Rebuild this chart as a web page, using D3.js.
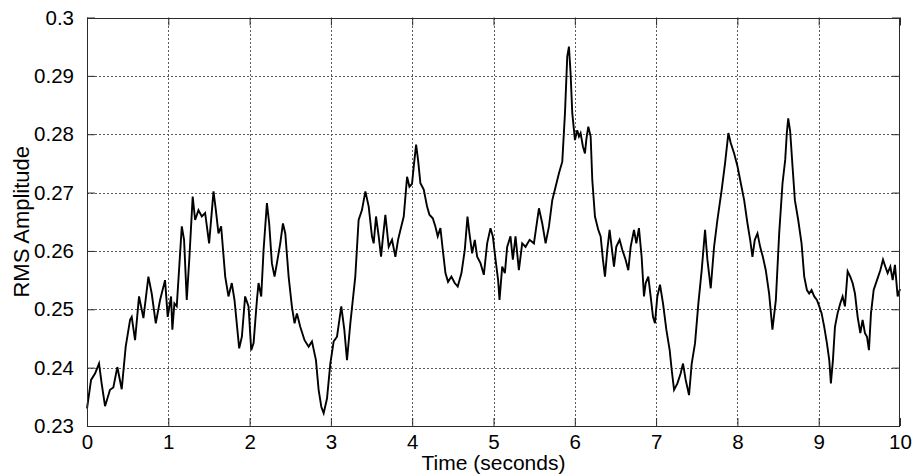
<!DOCTYPE html>
<html>
<head>
<meta charset="utf-8">
<script src="https://cdn.jsdelivr.net/npm/d3@7"></script>
<style>
  html, body { margin: 0; padding: 0; background: #fff; }
  svg { display: block; }
  text { font-family: "Liberation Sans", Arial, Helvetica, sans-serif; fill: #000; }
</style>
</head>
<body>
<svg id="chart" width="912" height="475"></svg>
<script>
// ---- data ----
const times = [
  0, 0.05, 0.099, 0.148, 0.18, 0.222, 0.283, 0.324, 0.373, 0.427,
  0.476, 0.53, 0.55, 0.591, 0.64, 0.694, 0.755, 0.796, 0.846, 0.899,
  0.96, 0.993, 1.034, 1.05, 1.075, 1.104, 1.166, 1.194, 1.227, 1.26,
  1.30, 1.33, 1.371, 1.412, 1.453, 1.502, 1.556, 1.585, 1.617, 1.65,
  1.70, 1.74, 1.781, 1.814, 1.872, 1.905, 1.945, 1.987, 2.02, 2.049,
  2.09, 2.11, 2.143, 2.172, 2.213, 2.241, 2.274, 2.307, 2.336, 2.377,
  2.41, 2.439, 2.48, 2.52, 2.553, 2.582, 2.623, 2.676, 2.726, 2.767,
  2.816, 2.849, 2.882, 2.911, 2.952, 2.993, 3.034, 3.075, 3.128, 3.165,
  3.198, 3.239, 3.30, 3.341, 3.382, 3.424, 3.465, 3.505, 3.526, 3.555,
  3.588, 3.617, 3.637, 3.67, 3.711, 3.752, 3.793, 3.826, 3.855, 3.896,
  3.937, 3.966, 3.998, 4.019, 4.048, 4.072, 4.101, 4.142, 4.183, 4.212,
  4.253, 4.285, 4.314, 4.347, 4.376, 4.409, 4.441, 4.482, 4.523, 4.56,
  4.606, 4.647, 4.68, 4.704, 4.737, 4.77, 4.799, 4.84, 4.881, 4.922,
  4.963, 4.992, 5.025, 5.057, 5.074, 5.107, 5.14, 5.168, 5.209, 5.238,
  5.271, 5.312, 5.353, 5.394, 5.444, 5.497, 5.559, 5.60, 5.641, 5.682,
  5.723, 5.764, 5.805, 5.846, 5.879, 5.907, 5.928, 5.948, 5.969, 6.002,
  6.03, 6.051, 6.071, 6.10, 6.125, 6.141, 6.166, 6.195, 6.215, 6.248,
  6.289, 6.318, 6.346, 6.371, 6.40, 6.428, 6.453, 6.482, 6.51, 6.551,
  6.584, 6.625, 6.658, 6.687, 6.728, 6.757, 6.789, 6.822, 6.851, 6.872,
  6.904, 6.933, 6.962, 6.986, 7.015, 7.048, 7.085, 7.126, 7.167, 7.192,
  7.221, 7.262, 7.302, 7.331, 7.364, 7.405, 7.438, 7.479, 7.52, 7.561,
  7.602, 7.631, 7.672, 7.713, 7.754, 7.807, 7.848, 7.889, 7.918, 7.96,
  8.001, 8.042, 8.083, 8.124, 8.157, 8.185, 8.214, 8.247, 8.28, 8.313,
  8.349, 8.39, 8.431, 8.473, 8.514, 8.555, 8.588, 8.608, 8.625, 8.649,
  8.678, 8.707, 8.748, 8.789, 8.822, 8.855, 8.883, 8.912, 8.945, 8.978,
  9.007, 9.036, 9.068, 9.101, 9.13, 9.15, 9.175, 9.20, 9.232, 9.265,
  9.294, 9.323, 9.356, 9.388, 9.417, 9.446, 9.479, 9.512, 9.54, 9.569,
  9.594, 9.618, 9.643, 9.676, 9.717, 9.758, 9.791, 9.82, 9.848, 9.881,
  9.91, 9.938, 9.971, 10.0
];
const rms = [
  0.2330, 0.2379, 0.2390, 0.2407, 0.2373, 0.2334, 0.2362, 0.2366, 0.2401, 0.2363,
  0.2436, 0.2482, 0.2487, 0.2447, 0.2522, 0.2485, 0.2556, 0.2527, 0.2476, 0.2516,
  0.2550, 0.2487, 0.2522, 0.2465, 0.2510, 0.2505, 0.2642, 0.2619, 0.2516, 0.2590,
  0.2693, 0.2653, 0.2670, 0.2659, 0.2665, 0.2613, 0.2702, 0.2670, 0.2630, 0.2642,
  0.2556, 0.2522, 0.2545, 0.2516, 0.2433, 0.2453, 0.2522, 0.2505, 0.2430, 0.2442,
  0.2516, 0.2545, 0.2522, 0.2602, 0.2682, 0.2647, 0.2579, 0.2556, 0.2579, 0.2613,
  0.2647, 0.2630, 0.2556, 0.2505, 0.2476, 0.2493, 0.2470, 0.2447, 0.2436, 0.2445,
  0.2413, 0.2362, 0.2333, 0.2322, 0.2347, 0.2407, 0.2445, 0.2453, 0.2505, 0.2465,
  0.2413, 0.2476, 0.2556, 0.2653, 0.2670, 0.2702, 0.2676, 0.2625, 0.2613, 0.2659,
  0.2625, 0.2590, 0.2619, 0.2662, 0.2607, 0.2619, 0.2590, 0.2619, 0.2636, 0.2659,
  0.2727, 0.2710, 0.2715, 0.2745, 0.2782, 0.2756, 0.2716, 0.2705, 0.2676, 0.2662,
  0.2656, 0.2642, 0.2625, 0.2639, 0.2602, 0.2562, 0.2547, 0.2556, 0.2545, 0.2539,
  0.2562, 0.2602, 0.2659, 0.2630, 0.2596, 0.2619, 0.2590, 0.2579, 0.2559, 0.2613,
  0.2639, 0.2625, 0.2585, 0.2550, 0.2516, 0.2573, 0.2562, 0.2607, 0.2625, 0.2585,
  0.2625, 0.2567, 0.2613, 0.2607, 0.2619, 0.2613, 0.2673, 0.2647, 0.2613, 0.2642,
  0.2687, 0.2710, 0.2733, 0.2753, 0.2836, 0.2933, 0.2950, 0.2905, 0.2836, 0.2790,
  0.2807, 0.2796, 0.2802, 0.2779, 0.2767, 0.2790, 0.2813, 0.2796, 0.2722, 0.2659,
  0.2636, 0.2625, 0.2585, 0.2556, 0.2602, 0.2636, 0.2607, 0.2573, 0.2607, 0.2619,
  0.2602, 0.2585, 0.2567, 0.2607, 0.2636, 0.2613, 0.2639, 0.2590, 0.2522, 0.2545,
  0.2556, 0.2522, 0.2487, 0.2476, 0.2522, 0.2542, 0.2510, 0.2465, 0.2430, 0.2396,
  0.2362, 0.2373, 0.2390, 0.2407, 0.2379, 0.2353, 0.2407, 0.2442, 0.2510, 0.2567,
  0.2636, 0.2585, 0.2536, 0.2607, 0.2653, 0.2705, 0.2750, 0.2802, 0.2785, 0.2767,
  0.2745, 0.2716, 0.2687, 0.2647, 0.2619, 0.2590, 0.2619, 0.2630, 0.2607, 0.2590,
  0.2567, 0.2527, 0.2465, 0.2516, 0.2630, 0.2716, 0.2756, 0.2802, 0.2827, 0.2805,
  0.2745, 0.2687, 0.2653, 0.2613, 0.2556, 0.2533, 0.2527, 0.2533, 0.2522, 0.2516,
  0.2505, 0.2493, 0.2470, 0.2442, 0.2413, 0.2373, 0.2413, 0.2470, 0.2493, 0.2510,
  0.2522, 0.2505, 0.2565, 0.2556, 0.2545, 0.2527, 0.2487, 0.2459, 0.2482, 0.2459,
  0.2453, 0.2430, 0.2493, 0.2533, 0.2550, 0.2567, 0.2585, 0.2573, 0.2562, 0.2573,
  0.2550, 0.2576, 0.2522, 0.2535
];
const xTicks = [0, 1, 2, 3, 4, 5, 6, 7, 8, 9, 10];
const yTicks = [0.23, 0.24, 0.25, 0.26, 0.27, 0.28, 0.29, 0.3];
const xTitle = "Time (seconds)";
const yTitle = "RMS Amplitude";

// ---- layout ----
const svg = d3.select("#chart");
const mLeft = 87, mRight = 900, mTop = 17.5, mBottom = 426;
const x = d3.scaleLinear().domain([0, 10]).range([mLeft, mRight]);
const y = d3.scaleLinear().domain([0.23, 0.3]).range([mBottom, mTop]);
const axisColor = "#2b2b2b";
const tickLen = 8;

// grid
const grid = svg.append("g").attr("stroke", "#5a5a5a").attr("stroke-width", 1)
  .attr("stroke-dasharray", "2,2").attr("shape-rendering", "crispEdges");
grid.selectAll("line.v").data(xTicks.slice(1, -1)).enter().append("line")
  .attr("x1", d => Math.round(x(d)) + 0.5).attr("x2", d => Math.round(x(d)) + 0.5)
  .attr("y1", mTop).attr("y2", mBottom);
grid.selectAll("line.h").data(yTicks.slice(1, -1)).enter().append("line")
  .attr("y1", d => Math.round(y(d)) + 0.5).attr("y2", d => Math.round(y(d)) + 0.5)
  .attr("x1", mLeft).attr("x2", mRight);

// data line
const pts = times.map((t, i) => [t, rms[i]]);
svg.append("path").datum(pts)
  .attr("fill", "none").attr("stroke", "#000").attr("stroke-width", 1.9)
  .attr("stroke-linejoin", "miter")
  .attr("d", d3.line().x(d => x(d[0])).y(d => y(d[1])));

// axes (MATLAB style: ticks inside on all four sides)
const fmtY = d => String(+d.toFixed(2));
function styleAxis(g) {
  g.selectAll(".domain").remove();
  g.selectAll(".tick line").attr("stroke", axisColor);
  g.selectAll(".tick text").attr("font-size", "20.5px").attr("fill", "#000")
    .style("font-family", '"Liberation Sans", Arial, sans-serif');
}
svg.append("g").attr("transform", `translate(0,${mBottom})`)
  .call(d3.axisBottom(x).tickValues(xTicks).tickSize(-tickLen).tickPadding(8).tickFormat(d3.format("d")))
  .call(styleAxis);
svg.append("g").attr("transform", `translate(0,${mTop})`)
  .call(d3.axisTop(x).tickValues(xTicks).tickSize(-tickLen).tickFormat(""))
  .call(styleAxis);
svg.append("g").attr("transform", `translate(${mLeft},0)`)
  .call(d3.axisLeft(y).tickValues(yTicks).tickSize(-tickLen).tickPadding(13).tickFormat(fmtY))
  .call(styleAxis);
svg.append("g").attr("transform", `translate(${mRight},0)`)
  .call(d3.axisRight(y).tickValues(yTicks).tickSize(-tickLen).tickFormat(""))
  .call(styleAxis);

// box
svg.append("rect").attr("x", mLeft + 0.5).attr("y", Math.round(mTop) + 0.5)
  .attr("width", mRight - mLeft - 1).attr("height", mBottom - Math.round(mTop) - 0.5)
  .attr("fill", "none").attr("stroke", axisColor).attr("stroke-width", 1)
  .attr("shape-rendering", "crispEdges");

// titles
svg.append("text").attr("x", (mLeft + mRight) / 2).attr("y", 470)
  .attr("text-anchor", "middle").attr("font-size", "21px").text(xTitle);
svg.append("text").attr("transform", `translate(29,${(mTop + mBottom) / 2}) rotate(-90)`)
  .attr("text-anchor", "middle").attr("font-size", "22px").text(yTitle);
</script>
</body>
</html>
